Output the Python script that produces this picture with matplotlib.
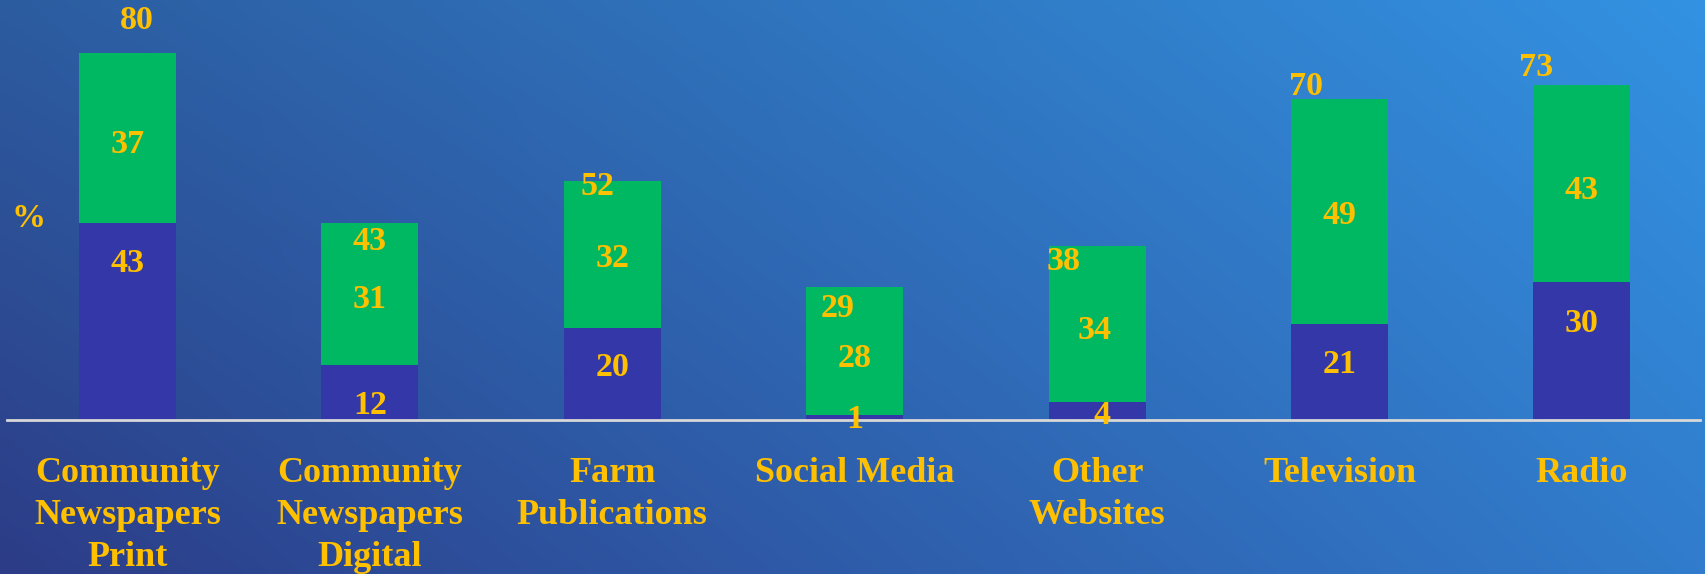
import numpy as np
import matplotlib
matplotlib.use("Agg")
import matplotlib.pyplot as plt

# ---- data ----
categories = ["Community\nNewspapers\nPrint", "Community\nNewspapers\nDigital",
              "Farm\nPublications", "Social Media", "Other\nWebsites",
              "Television", "Radio"]
bottom_vals = [43, 12, 20, 1, 4, 21, 30]
top_vals = [37, 31, 32, 28, 34, 49, 43]
totals = [80, 43, 52, 29, 38, 70, 73]

# ---- label placement (layout, data units) ----
bottom_lbl_dx = [0.0, 0.0, 0.0, 0.0, 0.02, 0.0, 0.0]
bottom_lbl_y = [34.9, 3.9, 12.2, 0.9, 1.7, 12.9, 21.8]
top_lbl_dx = [0.0, 0.0, 0.0, 0.0, -0.01, 0.0, 0.0]
top_lbl_y = [60.8, 27.0, 35.9, 14.2, 20.3, 45.3, 50.9]
total_lbl_dx = [0.04, 0.0, -0.06, -0.07, -0.14, -0.14, -0.19]
total_lbl_y = [87.8, 39.7, 51.6, 25.1, 35.3, 73.4, 77.6]
label_shift = -0.8

W, H = 1706, 574
fig = plt.figure(figsize=(W / 100, H / 100), dpi=100)

# background gradient
bg = fig.add_axes([0, 0, 1, 1])
bg.set_axis_off()
tl = np.array([44, 92, 160]) / 255
tr = np.array([51, 146, 226]) / 255
bl = np.array([44, 60, 135]) / 255
br = np.array([49, 124, 204]) / 255
u = np.linspace(0, 1, 200)[None, :, None]
v = np.linspace(0, 1, 80)[:, None, None]
img = (1 - v) * ((1 - u) * tl + u * tr) + v * ((1 - u) * bl + u * br)
bg.imshow(img, extent=[0, 1, 0, 1], aspect="auto", interpolation="bilinear")
bg.set_xlim(0, 1)
bg.set_ylim(0, 1)

ax = fig.add_axes([0, 0, 1, 1])
ax.set_facecolor("none")
ax.set_axis_off()
pxu_x = 242.4
pxu_y = 4.59
x0_px = 127.5
base_px_from_bottom = H - 420
ax.set_xlim(-x0_px / pxu_x, (W - x0_px) / pxu_x)
ax.set_ylim(-base_px_from_bottom / pxu_y, (H - base_px_from_bottom) / pxu_y)

x = np.arange(len(categories))
blue = "#3337A8"
green = "#00B862"
gold = "#FFC000"
font = "Liberation Serif"

ax.bar(x, bottom_vals, width=0.40, color=blue, zorder=2)
ax.bar(x, top_vals, width=0.40, bottom=bottom_vals, color=green, zorder=2)

ax.axhline(0, xmin=7 / W, xmax=1700 / W, color="#D8D8D8", lw=2, zorder=3)

num_kw = dict(color=gold, fontsize=24.5, fontweight="bold", family=font,
              ha="center", va="center", zorder=4)
for i in range(len(categories)):
    ax.text(x[i] + bottom_lbl_dx[i], bottom_lbl_y[i] + label_shift,
            str(bottom_vals[i]), **num_kw)
    ax.text(x[i] + top_lbl_dx[i], top_lbl_y[i] + label_shift,
            str(top_vals[i]), **num_kw)
    ax.text(x[i] + total_lbl_dx[i], total_lbl_y[i] + label_shift,
            str(totals[i]), **num_kw)
    ax.text(x[i], -8.0, categories[i], color=gold, fontsize=26, fontweight="bold",
            family=font, ha="center", va="top", linespacing=1.37, zorder=4)

ax.text((29 - x0_px) / pxu_x, (420 - 215) / pxu_y + label_shift, "%", **num_kw)

fig.savefig("out.png", dpi=100)
